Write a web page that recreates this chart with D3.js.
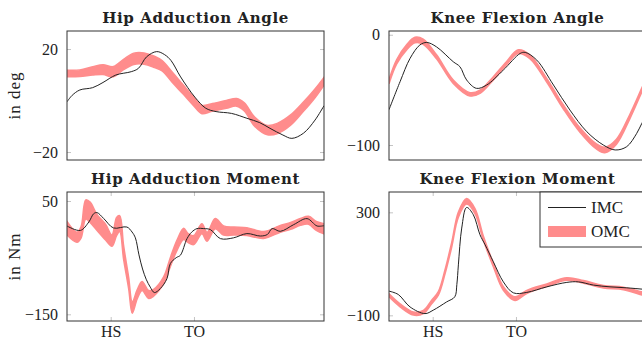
<!DOCTYPE html>
<html>
<head>
<meta charset="utf-8">
<script src="https://cdn.jsdelivr.net/npm/d3@7/dist/d3.min.js"></script>
<style>
  body { margin: 0; background: #fff; }
  svg { display: block; }
  text { font-family: "Liberation Serif", serif; fill: #222; }
</style>
</head>
<body>
<svg id="chart" width="642" height="339"></svg>
<script>
// gait cycle in %, HS / TO markers
var gaitTicks = [17, 49.4];
var gaitTickLabels = ['HS', 'TO'];

// [gait %, value]
var hipAngleImc = [[0,-0.5],[2,2],[5,4.1],[10,5],[14,7],[19,9.9],[25,11.2],[27.8,12.5],[31,17],[34.9,19],[38,17.8],[40.5,15.5],[44,9.5],[47,5],[50,1],[54,-3],[58,-4.3],[64,-5],[70,-6.9],[75,-8.6],[79,-10.8],[84,-13.4],[87.5,-14.7],[92,-12.7],[96.5,-7.6],[100,-2]];
// [gait %, mean, half spread]
var hipAngleOmc = [[0,10.5,1.3],[5,10.6,1.3],[10,11.5,1.6],[14,12,1.9],[18,11.2,2],[22,14,2],[26,16.2,2.2],[30,16.3,2.2],[34,15,2.2],[37,13.5,2],[41,9,2],[45,4.5,1.8],[49,0,1.7],[52.5,-3.5,1.6],[56,-2.8,1.5],[62,-1.5,1.5],[66,-0.7,1.5],[69,-2.5,1.6],[73,-8.2,1.8],[78,-11.5,1.8],[82,-10.8,2],[87,-7.6,2],[92,-2.4,1.8],[96.5,2.8,1.7],[100,7.5,1.5]];

var kneeAngleImc = [[0,-68],[4.3,-42.6],[8.2,-21.4],[12,-9.3],[14.7,-7],[18.5,-11],[25,-24.5],[27.6,-29],[30.2,-41],[34,-48.6],[38,-45.6],[44.5,-32],[51,-17],[53,-16],[57.5,-23],[64,-45.6],[70.4,-68.3],[77,-88],[83.4,-100],[88,-104.5],[92.5,-101.5],[96.4,-89.4],[98.4,-80.3],[100,-74]];
var kneeAngleOmc = [[0,-42.6,1.8],[3,-24.5,2],[7,-11,2.3],[10.1,-4.8,2.5],[13.3,-6.3,2.3],[18.5,-20,1.8],[25,-42.6,1.5],[31.5,-54,1.5],[35.4,-51.7,1.5],[40.6,-39.5,1.5],[45.7,-26,1.5],[50.3,-15.4,1.7],[54.8,-20,1.7],[61.3,-41,1.7],[67.8,-65.3,1.8],[74.3,-86.4,2],[80.8,-101.5,2.3],[84,-104.5,2.5],[88.5,-97,2.3],[93.7,-74.3,2],[98.4,-50,1.8],[100,-42,1.8]];

var hipMomentImc = [[0,5.9],[5.2,-2],[8.5,13],[10.4,27.7],[11.7,29.5],[14.3,19],[18.1,2.4],[23.3,4.1],[25.3,-4.7],[26.6,-15],[28,-45],[29.4,-70],[30.8,-88],[32.4,-102],[34,-111.6],[36.3,-104.6],[38.9,-87],[40.2,-60.5],[42.5,-50],[44.1,-45.8],[46.7,-16.4],[48.5,-5],[50.6,1.3],[53.2,1.3],[55.8,-0.5],[59.7,-16.4],[64.8,-15],[70,-7.5],[75.2,-11.8],[78,-9],[79.8,1.3],[83,-3.5],[88.2,8.3],[93.4,18.9],[97.3,5.9],[100,6.5]];
var hipMomentOmc = [[0,2,12],[3.9,-14,9],[5.5,-5,10],[7.3,35,17],[9,30,18],[11.7,12,14],[15,-5,14],[17.5,-20,10],[19.3,5,16],[20.5,10,14],[22,-40,12],[24,-95,10],[25.4,-138,10],[27.3,-115,8],[29.2,-100,8],[31.8,-115,7],[33.7,-112,6],[37.6,-90,6],[40.2,-58,8],[42.8,-28,9],[45.4,-8,10],[47,-15,8],[49.3,-19,8],[52.5,1,9],[54.5,-13,8],[57.7,10,9],[60.9,-2,8],[65,-3,7],[70,-4,7],[76.5,-10,6],[83,1,6],[87,6,6],[90.8,13,6],[94,16,7],[97,6,8],[100,1,9]];

var kneeMomentImc = [[0,-6],[3.6,-19],[8.2,-67.5],[14,-93.3],[17.2,-80],[22.4,-48],[25.6,-28],[26.4,20],[27,96],[28.3,239],[30.2,319],[32.8,291],[35.4,213],[37.4,174],[40.6,108],[44.5,30],[48.4,-12.7],[53.6,-11],[61.4,10.7],[69.2,28],[73.7,30],[79.6,17.4],[86,10.7],[92.5,6.8],[98.5,1.7],[100,0]];
var kneeMomentOmc = [[0,-22,6],[4.3,-61,6],[9.5,-93,6],[13.4,-87,6],[16.6,-48,7],[19.2,-15,7],[21.8,69,8],[24.4,174,9],[27,291,10],[30.2,343,11],[33.5,304,10],[36.7,200,8],[40.6,96,7],[44.5,4.5,7],[49,-35,7],[53.6,-9,6],[61.4,17,5],[69.2,41,5],[75.7,30,5],[83.4,11,5],[91.2,4.5,5],[98.5,-15,6],[100,-18,6]];

var titles = ['Hip Adduction Angle', 'Knee Flexion Angle', 'Hip Adduction Moment', 'Knee Flexion Moment'];
var yLabels = ['in deg', '', 'in Nm', ''];
var yTicks = [[-20, 20], [-100, 0], [-150, 50], [-100, 300]];
var yDomains = [[-23.1, 27], [-113.6, 3.4], [-161.8, 65.9], [-122, 379]];
var seriesNames = ['IMC', 'OMC'];

var imcColor = '#222';
var omcColor = '#ff8c8c';
var panelW = 257, panelH = 129;
var origins = [[67, 31], [389, 31], [67, 192], [389, 192]];

var panels = [
    { imc: hipAngleImc, omc: hipAngleOmc, gait: false },
    { imc: kneeAngleImc, omc: kneeAngleOmc, gait: false },
    { imc: hipMomentImc, omc: hipMomentOmc, gait: true },
    { imc: kneeMomentImc, omc: kneeMomentOmc, gait: true }
];

var svg = d3.select('#chart');
var fmt = function (d) { return d < 0 ? '\u2212' + Math.abs(d) : String(d); };

panels.forEach(function (p, i) {
    var g = svg.append('g')
        .attr('transform', `translate(${origins[i][0]}, ${origins[i][1]})`);

    var xScale = d3.scaleLinear().domain([0, 100]).range([0, panelW]);
    var yScale = d3.scaleLinear().domain(yDomains[i]).range([panelH, 0]);

    g.append('clipPath').attr('id', 'clip' + i)
        .append('rect').attr('width', panelW).attr('height', panelH);

    // inward gray tick marks + labels
    var left = g.append('g')
        .call(d3.axisLeft(yScale).tickValues(yTicks[i]).tickSize(-4).tickPadding(9).tickFormat(fmt));
    var right = g.append('g')
        .attr('transform', `translate(${panelW}, 0)`)
        .call(d3.axisRight(yScale).tickValues(yTicks[i]).tickSize(-4).tickFormat(''));
    var axes = [left, right];

    if (p.gait) {
        var bottom = g.append('g')
            .attr('transform', `translate(0, ${panelH})`)
            .call(d3.axisBottom(xScale).tickValues(gaitTicks).tickSize(-4).tickPadding(5)
                .tickFormat(function (d, k) { return gaitTickLabels[k]; }));
        var top = g.append('g')
            .call(d3.axisTop(xScale).tickValues(gaitTicks).tickSize(-4).tickFormat(''));
        axes.push(bottom, top);
    }
    axes.forEach(function (a) {
        a.select('.domain').remove();
        a.selectAll('line').attr('stroke', '#c4c4c4');
        a.selectAll('text').attr('font-family', '"Liberation Serif", serif')
            .attr('font-size', 16).attr('fill', '#222');
    });

    var area = d3.area()
        .x(d => xScale(d[0]))
        .y0(d => yScale(d[1] - d[2]))
        .y1(d => yScale(d[1] + d[2]))
        .curve(d3.curveCatmullRom.alpha(0.5));
    var line = d3.line()
        .x(d => xScale(d[0]))
        .y(d => yScale(d[1]))
        .curve(d3.curveCatmullRom.alpha(0.5));

    var plot = g.append('g').attr('clip-path', `url(#clip${i})`);
    plot.append('path')
        .attr('d', area(p.omc))
        .style('fill', omcColor)
        .style('stroke', omcColor)
        .style('stroke-width', 1.5);
    plot.append('path')
        .attr('d', line(p.imc))
        .style('fill', 'none')
        .style('stroke', imcColor)
        .style('stroke-width', 1);

    g.append('rect')
        .attr('width', panelW).attr('height', panelH)
        .style('fill', 'none').style('stroke', '#333').style('stroke-width', 1);

    g.append('text')
        .attr('x', panelW / 2).attr('y', -8)
        .attr('text-anchor', 'middle')
        .style('font-family', '"DejaVu Serif", serif')
        .style('font-weight', 'bold')
        .style('font-size', '15px')
        .style('letter-spacing', '0.6px')
        .text(titles[i]);

    if (yLabels[i]) {
        g.append('text')
            .attr('transform', `translate(${-47}, ${panelH / 2}) rotate(-90)`)
            .attr('text-anchor', 'middle')
            .style('font-size', '17px')
            .style('letter-spacing', '1px')
            .text(yLabels[i]);
    }

    // legend in last panel
    if (i === 3) {
        var lg = g.append('g').attr('transform', 'translate(151, 0)');
        lg.append('rect').attr('width', 120).attr('height', 55)
            .style('fill', '#fff').style('stroke', '#333').style('stroke-width', 1);
        lg.append('line').attr('x1', 8).attr('x2', 46).attr('y1', 15.5).attr('y2', 15.5)
            .style('stroke', imcColor).style('stroke-width', 1);
        lg.append('rect').attr('x', 8).attr('y', 34).attr('width', 38).attr('height', 11)
            .style('fill', omcColor);
        lg.selectAll('.lbl').data(seriesNames).enter().append('text')
            .attr('class', 'lbl')
            .attr('x', 51).attr('y', (d, k) => 20.5 + k * 24)
            .style('font-size', '17px')
            .text(d => d);
    }
});
</script>
</body>
</html>
